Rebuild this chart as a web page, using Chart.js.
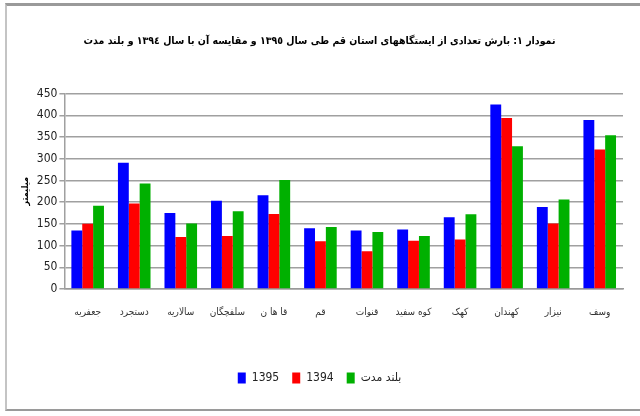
<!DOCTYPE html>
<html>
<head>
<meta charset="utf-8">
<script src="https://cdn.jsdelivr.net/npm/chart.js@4.4.0/dist/chart.umd.min.js"></script>
<style>
  html, body { margin: 0; padding: 0; background: #fff; overflow: hidden; width: 640px; height: 416px; }
  #frame { position: absolute; left: 5px; top: 3px; width: 635px; height: 408px; box-sizing: border-box;
           border-left: 2px solid #c4c4c4; border-top: 3px solid #9a9a9a; border-bottom: 2px solid #9a9a9a; }
  #wrap { position: absolute; left: 0; top: 0; width: 640px; height: 416px; }
</style>
</head>
<body>
<div id="frame"></div>
<div id="wrap"><canvas id="c" width="640" height="416"></canvas></div>
<script>
const categories = ["جعفریه", "دستجرد", "سالاریه", "سلفچگان", "قا ها ن", "قم", "قنوات", "کوه سفید", "کهک", "کهندان", "نیزار", "وسف"];
const series1395 = [135, 291, 175, 203, 216, 140, 135, 137, 165, 425, 189, 389];
const series1394 = [150, 197, 120, 122, 173, 110, 87, 111, 114, 394, 151, 321];
const seriesLong = [192, 243, 151, 179, 251, 143, 131, 122, 172, 329, 206, 354];
const yTicks = [0, 50, 100, 150, 200, 250, 300, 350, 400, 450];
const titleText = "نمودار ١: بارش تعدادی از ایستگاههای استان قم طی سال ١٣٩٥ و مقایسه آن با سال ١٣٩٤ و بلند مدت";
const yTitle = "میلیمتر";

const narrow = "'Liberation Sans Narrow', 'DejaVu Sans Condensed', 'Liberation Sans', sans-serif";
const arabic = "'DejaVu Sans Condensed', 'DejaVu Sans', sans-serif";

new Chart(document.getElementById('c'), {
  type: 'bar',
  data: {
    labels: categories,
    datasets: [
      { label: '1395', data: series1395, backgroundColor: '#0000ff' },
      { label: '1394', data: series1394, backgroundColor: '#ff0000' },
      { label: 'بلند مدت', data: seriesLong, backgroundColor: '#00b000' }
    ]
  },
  options: {
    responsive: false,
    animation: false,
    layout: { padding: { left: 16, right: 17, top: 35, bottom: 22 } },
    datasets: { bar: { categoryPercentage: 0.7, barPercentage: 1.0 } },
    plugins: {
      title: {
        display: true, text: titleText, color: '#000',
        font: { family: arabic, size: 10.5, weight: 'bold' },
        padding: { top: 0, bottom: 46 }
      },
      legend: {
        position: 'bottom',
        labels: {
          boxWidth: 8, boxHeight: 11, padding: 13, color: '#222',
          font: { family: narrow, size: 12 }
        }
      },
      tooltip: { enabled: false }
    },
    scales: {
      x: {
        grid: { display: false },
        border: { color: '#999', width: 1.5 },
        ticks: { color: '#333', font: { family: arabic, size: 10 }, maxRotation: 0, padding: 9 },
        afterFit: (axis) => { axis.height += 32; }
      },
      y: {
        min: 0, max: 450,
        afterBuildTicks: (axis) => { axis.ticks = yTicks.map(v => ({ value: v })); },
        grid: { color: '#a0a0a0', lineWidth: 1.5, tickLength: 5 },
        border: { color: '#a0a0a0', width: 1.5 },
        ticks: { color: '#222', font: { family: narrow, size: 12 }, padding: 2 },
        title: { display: true, text: yTitle, color: '#000', font: { family: arabic, size: 9, weight: 'bold' }, padding: 4 }
      }
    }
  }
});
</script>
</body>
</html>
